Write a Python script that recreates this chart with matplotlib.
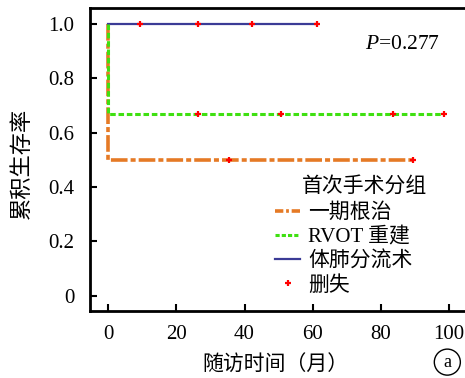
import matplotlib
matplotlib.use("Agg")
import matplotlib.pyplot as plt
from matplotlib.lines import Line2D

plt.rcParams["font.family"] = ["Liberation Serif", "Noto Sans CJK SC"]
plt.rcParams["mathtext.fontset"] = "custom"
plt.rcParams["mathtext.rm"] = "Liberation Serif"
plt.rcParams["mathtext.it"] = "Liberation Serif:italic"
plt.rcParams["lines.scale_dashes"] = False

# Kaplan-Meier step data (months, survival)
t_radical = [0, 0, 89.3]
s_radical = [1.0, 0.5, 0.5]
cens_radical = [35.4, 89.3]

t_rvot = [0, 0, 98.4]
s_rvot = [1.0, 0.667, 0.667]
cens_rvot = [26.4, 50.7, 83.5, 98.4]

t_shunt = [0, 61.3]
s_shunt = [1.0, 1.0]
cens_shunt = [9.4, 26.4, 42.1, 61.3]

group_labels = ["一期根治", "RVOT 重建", "体肺分流术", "删失"]
xticks = [0, 20, 40, 60, 80, 100]
yticks = [0, 0.2, 0.4, 0.6, 0.8, 1.0]
ytick_labels = ["0", "0.2", "0.4", "0.6", "0.8", "1.0"]

c_orange = "#e57a25"
c_green = "#3fe011"
c_blue = "#3b3b96"

fig = plt.figure(figsize=(4.65, 3.78), dpi=100)
ax = fig.add_axes([0.1925, 0.178, 0.8075, 0.801])

ax.plot(t_shunt, s_shunt, color=c_blue, lw=1.6, zorder=3)
ax.plot(t_rvot, s_rvot, color=c_green, lw=2.2, dashes=(4, 2), zorder=4)
ax.plot(t_radical, s_radical, color=c_orange, lw=2.6, dashes=(12, 2.2, 3.6, 2.2), zorder=2)

mk = dict(marker="+", ls="none", color="red", ms=4.5, mew=1.6, zorder=6)
ax.plot(cens_shunt, [1.0] * len(cens_shunt), **mk)
ax.plot(cens_rvot, [0.667] * len(cens_rvot), **mk)
ax.plot(cens_radical, [0.5] * len(cens_radical), **mk)

ax.set_xlim(-5.5, 104.7)
ax.set_ylim(-0.056, 1.059)
ax.set_xticks(xticks)
ax.set_yticks(yticks)
ax.set_yticklabels(ytick_labels)
ax.tick_params(direction="in", length=5, width=1.5, labelsize=15)
ax.tick_params(axis="y", pad=11)
ax.tick_params(axis="x", pad=10)
ax.spines["right"].set_visible(False)
for s in ["left", "top", "bottom"]:
    ax.spines[s].set_linewidth(2)

ax.set_ylabel("累积生存率", fontsize=16)
ax.yaxis.set_label_coords(-0.15, 0.487)
ax.set_xlabel("随访时间（月）", fontsize=15)
ax.xaxis.set_label_coords(0.494, -0.15)

ax.text(0.734, 0.878, "$P$=0.277", transform=ax.transAxes, fontsize=15.5, va="center")

handles = [
    Line2D([], [], color=c_orange, lw=2.6, dashes=(6, 2, 2, 2)),
    Line2D([], [], color=c_green, lw=2.2, dashes=(3, 1.5)),
    Line2D([], [], color=c_blue, lw=1.6),
    Line2D([], [], marker="+", ls="none", color="red", ms=4.5, mew=1.6),
]
fig.text(0.649, 0.505, "首次手术分组", fontsize=15, va="center")
ax.legend(handles, group_labels, loc="upper left", bbox_to_anchor=(0.494, 0.354),
          frameon=False, fontsize=15, handlelength=1.2, handletextpad=0.4,
          labelspacing=0.2, borderaxespad=0, borderpad=0)

fig.text(0.962, 0.042, "a", fontsize=13, ha="center", va="center",
         bbox=dict(boxstyle="circle,pad=0.25", fc="white", ec="black", lw=1))

fig.savefig("out.png", dpi=100)
